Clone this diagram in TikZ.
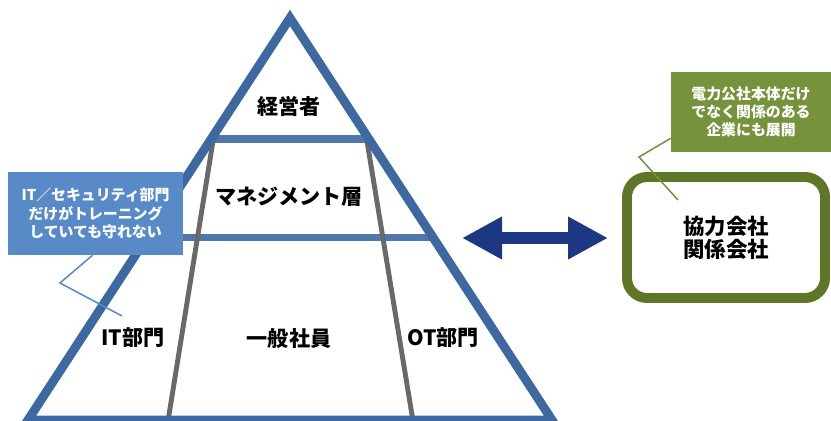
\documentclass[tikz,border=0pt]{standalone}
\usepackage{fontspec}
\setmainfont{Noto Sans CJK JP}
\usetikzlibrary{arrows.meta, positioning, calc}
\definecolor{pyrblue}{RGB}{62,104,160}
\definecolor{linegray}{RGB}{105,105,105}
\definecolor{noteblue}{RGB}{88,138,200}
\definecolor{notegreen}{RGB}{118,146,60}
\definecolor{boxgreen}{RGB}{95,118,40}
\definecolor{arrblue}{RGB}{28,56,130}

\begin{document}
\begin{tikzpicture}[x=0.03cm, y=-0.03cm, >={Triangle[length=1.2cm,width=1.2cm]},
      layer/.style={font=\fontsize{18}{20}\selectfont\bfseries},
      note/.style={text=white, align=center, inner sep=0pt,
        font=\fontsize{12.7}{15.6}\selectfont\bfseries},
      edgeline/.style={draw=pyrblue, line width=7.6pt, line join=miter},
      hline/.style={draw=pyrblue!90!white, line width=6pt},
      gline/.style={draw=linegray, line width=4.2pt}]
      \useasboundingbox (0,0) rectangle (831,421);
      \clip (0,0) rectangle (831,421);
      % pyramid corners
      \coordinate (p_top) at (290,18);
      \coordinate (p_l) at (28,420);
      \coordinate (p_r) at (552,420);
      \coordinate (h1_l) at ($(p_top)!0.301!(p_l)$);
      \coordinate (h1_r) at ($(p_top)!0.301!(p_r)$);
      \coordinate (h2_l) at ($(p_top)!0.545!(p_l)$);
      \coordinate (h2_r) at ($(p_top)!0.545!(p_r)$);
      \coordinate (g1_t) at (213,141);
      \coordinate (g1_b) at (168,421);
      \coordinate (g2_t) at (367,141);
      \coordinate (g2_b) at (413,421);
      \draw[hline] (h1_l) -- (h1_r);
      \draw[hline] (h2_l) -- (h2_r);
      \draw[gline] (g1_t) -- (g1_b);
      \draw[gline] (g2_t) -- (g2_b);
      \draw[edgeline] (p_l) -- (p_top) -- (p_r) -- cycle;
      % layer labels
      \node[layer] (n_top) at (289,106) {経営者};
      \node[layer] (n_mid) at (289,197) {マネジメント層};
      \node[layer] (n_all) at (289,338) {一般社員};
      \node[layer] (n_it) at (133,338) {IT部門};
      \node[layer] (n_ot) at (443,338) {OT部門};
      % partner box
      \node[draw=boxgreen, fill=white, line width=8.5pt, rounded corners=0.6cm,
        minimum width=5.94cm, minimum height=3.63cm, align=center,
        font=\fontsize{18.3}{19.6}\selectfont\bfseries] (n_part) at (726,237.5) {協力会社\\関係会社};
      \coordinate (a_l) at (462,238);
      \coordinate (a_r) at (608,238);
      \draw[<->, draw=arrblue, line width=10pt] (a_l) -- (a_r);
      % callouts
      \node[note, fill=noteblue, minimum width=5.25cm, minimum height=2.49cm]
        (c_it) at (95.5,213.5) {IT／セキュリティ部門\\だけがトレーニング\\していても守れない};
      \coordinate (k_it) at (60,283);
      \coordinate (e_it) at (122,316);
      \draw[noteblue, line width=1.3pt] ($(c_it.south)+(-3,0)$) -- (k_it) -- (e_it);
      \node[note, fill=notegreen, minimum width=4.8cm, minimum height=2.4cm]
        (c_ext) at (751,112) {電力公社本体だけ\\でなく関係のある\\企業にも展開};
      \coordinate (k_ext) at (639,157);
      \coordinate (e_ext) at (678,200);
      \draw[notegreen, line width=1.3pt] ($(c_ext.south west)+(0,-14)$) -- (k_ext) -- (e_ext);
    \end{tikzpicture}
\end{document}
